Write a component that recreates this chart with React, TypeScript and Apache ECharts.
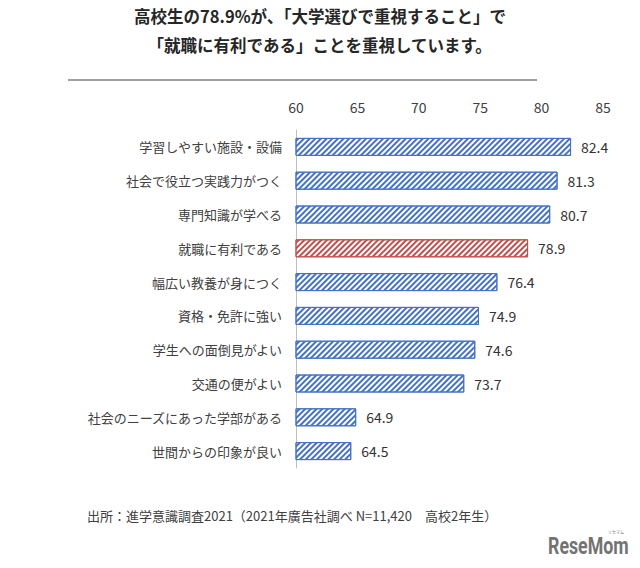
import React, { useEffect, useRef } from "react";
import * as echarts from "echarts";

const categories = [
  "学習しやすい施設・設備",
  "社会で役立つ実践力がつく",
  "専門知識が学べる",
  "就職に有利である",
  "幅広い教養が身につく",
  "資格・免許に強い",
  "学生への面倒見がよい",
  "交通の便がよい",
  "社会のニーズにあった学部がある",
  "世間からの印象が良い",
];
const values = [82.4, 81.3, 80.7, 78.9, 76.4, 74.9, 74.6, 73.7, 64.9, 64.5];
const highlightIndex = 3;
const titleLines = [
  "高校生の78.9%が、「大学選びで重視すること」で",
  "「就職に有利である」ことを重視しています。",
];
const sourceText = "出所：進学意識調査2021（2021年廣告社調べ N=11,420　高校2年生）";

const FONT = '"Noto Sans CJK JP", "Noto Sans", sans-serif';

export default function App() {
  const ref = useRef<HTMLDivElement>(null);
  useEffect(() => {
    if (!ref.current) return;
    const chart = echarts.init(ref.current, undefined, { renderer: "svg" });
    const mkDecal = (c: string) => ({
      symbol: "rect",
      symbolSize: 1,
      color: c,
      dashArrayX: [1, 0],
      dashArrayY: [1.4, 1.6],
      rotation: -Math.PI / 4,
    });
    const data = values.map((v, i) => {
      const hl = i === highlightIndex;
      const c = hl ? "#c0504d" : "#4472c4";
      return {
        value: v,
        itemStyle: {
          color: "#ffffff",
          borderColor: c,
          borderWidth: 1,
          decal: mkDecal(c),
        },
      };
    });
    chart.setOption({
      animation: false,
      aria: { enabled: false, decal: { show: true } },
      textStyle: { fontFamily: FONT },
      grid: { left: 296, right: 37, top: 130, bottom: 100, containLabel: false },
      xAxis: {
        type: "value",
        position: "top",
        min: 60,
        max: 85,
        interval: 5,
        axisLine: { show: false },
        axisTick: { show: false },
        splitLine: { show: false },
        axisLabel: { color: "#404040", fontSize: 14, margin: 16, fontFamily: FONT },
      },
      yAxis: {
        type: "category",
        inverse: true,
        data: categories,
        axisLine: { show: true, lineStyle: { color: "#bfbfbf", width: 1 } },
        axisTick: { show: false },
        axisLabel: { color: "#404040", fontSize: 13, margin: 14, fontFamily: FONT },
      },
      series: [
        {
          type: "bar",
          data,
          barWidth: 18,
          label: {
            show: true,
            position: "right",
            distance: 10,
            color: "#333333",
            fontSize: 14,
            fontFamily: FONT,
            formatter: (p: any) => p.value.toFixed(1),
          },
        },
      ],
      graphic: [
        {
          type: "text",
          left: "center",
          top: 8,
          style: { text: titleLines[0], font: `bold 16.5px ${FONT}`, fill: "#262626" },
        },
        {
          type: "text",
          left: "center",
          top: 37,
          style: { text: titleLines[1], font: `bold 16.5px ${FONT}`, fill: "#262626" },
        },
        {
          type: "line",
          shape: { x1: 68, y1: 80, x2: 537, y2: 80 },
          style: { stroke: "#404040", lineWidth: 1 },
        },
        {
          type: "text",
          left: 87,
          top: 509,
          style: { text: sourceText, font: `13px ${FONT}`, fill: "#404040" },
        },
        {
          type: "text",
          x: 548,
          y: 533,
          scaleX: 0.74,
          style: {
            text: "ReseMom",
            font: `bold 24px Roboto, ${FONT}`,
            fill: "#737373",
            textVerticalAlign: "top",
          },
        },
        {
          type: "text",
          x: 608,
          y: 530,
          style: { text: "リセマム", font: `4px ${FONT}`, fill: "#737373" },
        },
      ],
    });
    return () => chart.dispose();
  }, []);
  return (
    <div
      ref={ref}
      style={{ position: "absolute", left: 0, top: 0, width: 640, height: 568, background: "#fff" }}
    />
  );
}
